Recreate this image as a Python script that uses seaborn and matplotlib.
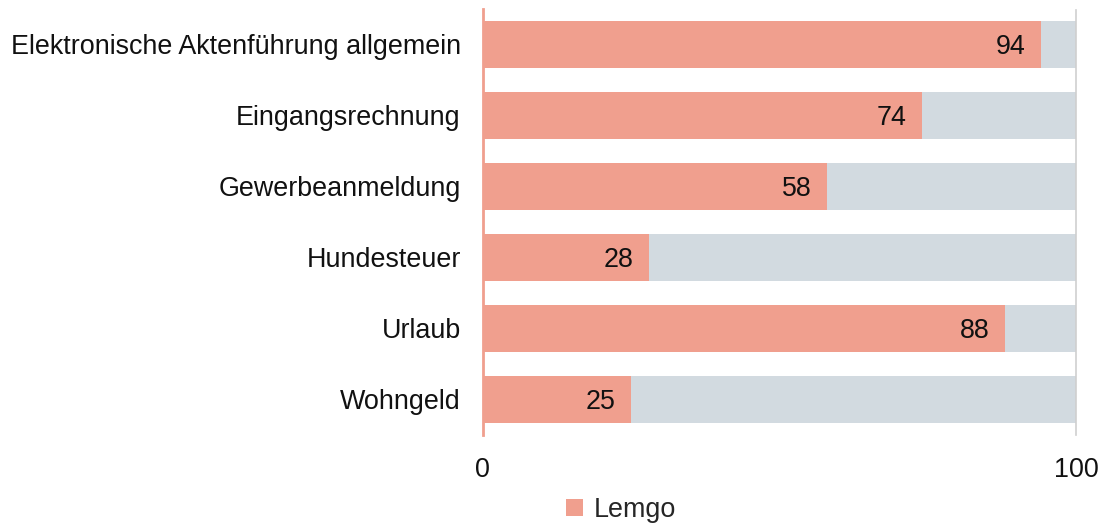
import matplotlib
matplotlib.use("Agg")
import matplotlib.pyplot as plt
import seaborn as sns
import pandas as pd
from matplotlib.patches import Patch

categories = [
    "Elektronische Aktenführung allgemein",
    "Eingangsrechnung",
    "Gewerbeanmeldung",
    "Hundesteuer",
    "Urlaub",
    "Wohngeld",
]
lemgo = [94, 74, 58, 28, 88, 25]
total = [100, 100, 100, 100, 100, 100]
series_name = "Lemgo"

sns.set_theme(style="white")
plt.rcParams["font.family"] = ["Liberation Sans", "DejaVu Sans"]

salmon = "#F09F8E"
grey = "#D2DAE0"
fs = 19.4

df = pd.DataFrame({"Kategorie": categories, "Wert": lemgo, "Gesamt": total})

fig = plt.figure(figsize=(11.05, 5.26), dpi=100)
ax = fig.add_axes([0.437, 0.173, 0.537, 0.81])

sns.barplot(data=df, y="Kategorie", x="Gesamt", color=grey, width=0.65,
            saturation=1, ax=ax, orient="h", linewidth=0)
sns.barplot(data=df, y="Kategorie", x="Wert", color=salmon, width=0.65,
            saturation=1, ax=ax, orient="h", linewidth=0)

for i, v in enumerate(lemgo):
    ax.text(v - 2.6, i + 0.03, f"{v}", ha="right", va="center", fontsize=fs,
            color="#111111")

ax.set_xlim(0, 100)
ax.set_ylim(5.5, -0.5)
ax.set_xticks([0, 100])
ax.set_xticklabels(["0", "100"], fontsize=fs, color="#111111")
ax.tick_params(axis="x", pad=16, length=0)
ax.tick_params(axis="y", length=0, pad=16, labelsize=fs, labelcolor="#111111")
ax.set_xlabel("")
ax.set_ylabel("")

for side in ["top", "bottom"]:
    ax.spines[side].set_visible(False)
ax.spines["left"].set_color(salmon)
ax.spines["left"].set_linewidth(2)
ax.spines["right"].set_color("#CFCFCF")
ax.spines["right"].set_linestyle((0, (1, 1)))
ax.spines["right"].set_linewidth(1.2)

handle = Patch(facecolor=salmon, edgecolor="none", label=series_name)
fig.legend(handles=[handle], loc="center", bbox_to_anchor=(0.562, 0.03),
           frameon=False, fontsize=fs, handlelength=0.6, handleheight=0.6,
           handletextpad=0.4, borderpad=0.1)

fig.savefig("out.png", dpi=100)
